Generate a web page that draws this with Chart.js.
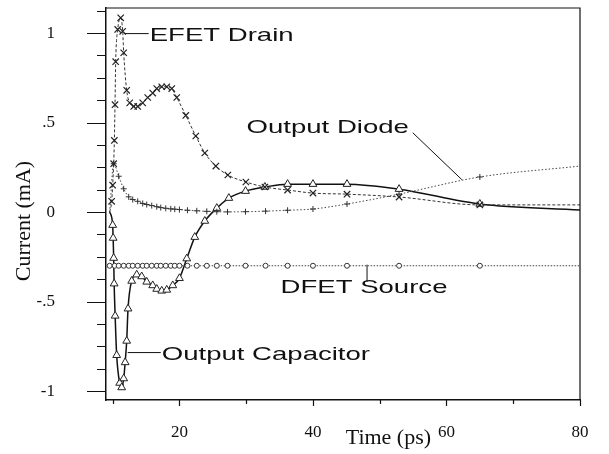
<!DOCTYPE html>
<html>
<head>
<meta charset="utf-8">
<script src="https://cdn.jsdelivr.net/npm/chart.js@4.4.0/dist/chart.umd.min.js"></script>
<style>
  html, body { margin: 0; padding: 0; background: #fff; }
  #wrap { width: 609px; height: 454px; }
</style>
</head>
<body>
<div id="wrap"><canvas id="chartCanvas"></canvas></div>
<script>
// time (ps) and current (mA)
const efetT = [9.55, 9.85, 10.0, 10.15, 10.25, 10.35, 10.45, 10.75, 11.2, 11.5, 11.65, 12.1, 12.55, 13.15, 13.75, 14.5, 15.25, 16.0, 16.6, 17.35, 18.1, 18.85, 19.6, 20.95, 22.45, 23.8, 25.45, 27.25, 29.95, 32.8, 36.2, 40, 45.1, 52.9, 65, 80];
const efetI = [0, 0.06, 0.15, 0.27, 0.40, 0.60, 0.84, 1.02, 1.085, 1.01, 0.89, 0.68, 0.61, 0.59, 0.59, 0.61, 0.64, 0.665, 0.69, 0.70, 0.70, 0.69, 0.64, 0.54, 0.425, 0.33, 0.257, 0.207, 0.168, 0.14, 0.123, 0.106, 0.10, 0.084, 0.04, 0.04];

const diodeT = [9.55, 10.15, 10.9, 11.65, 12.4, 13.0, 13.75, 14.5, 15.1, 15.85, 16.6, 17.2, 17.95, 18.7, 19.3, 20.0, 21.2, 22.6, 24.1, 25.6, 27.2, 29.9, 32.9, 36.2, 40, 45.1, 52.9, 65, 80];
const diodeI = [0, 0.27, 0.20, 0.13, 0.085, 0.07, 0.06, 0.048, 0.042, 0.036, 0.03, 0.025, 0.021, 0.018, 0.016, 0.014, 0.010, 0.007, 0.004, 0.002, 0.001, 0.002, 0.005, 0.01, 0.017, 0.045, 0.10, 0.196, 0.257];

const dfetT = [9.55, 10.3, 10.9, 11.65, 12.4, 13.0, 13.75, 14.5, 15.1, 15.85, 16.6, 17.2, 17.95, 18.7, 19.3, 20.0, 21.2, 22.6, 24.1, 25.6, 27.2, 29.9, 32.9, 36.2, 40, 45.1, 52.9, 65, 80];
const dfetI = [-0.3, -0.3, -0.3, -0.3, -0.3, -0.3, -0.3, -0.3, -0.3, -0.3, -0.3, -0.3, -0.3, -0.3, -0.3, -0.3, -0.3, -0.3, -0.3, -0.3, -0.3, -0.3, -0.3, -0.3, -0.3, -0.3, -0.3, -0.3, -0.3];

const capT = [9.55, 10.0, 10.07, 10.15, 10.22, 10.37, 10.6, 11.05, 11.35, 11.65, 11.87, 12.1, 12.3, 12.85, 13.6, 14.35, 15.1, 16.0, 16.6, 17.35, 18.1, 19.0, 20.0, 21.1, 22.3, 23.8, 25.6, 27.4, 29.9, 32.8, 36.2, 40, 45.1, 52.9, 65, 80];
const capI = [0, -0.073, -0.145, -0.257, -0.40, -0.58, -0.80, -0.955, -0.98, -0.93, -0.84, -0.72, -0.54, -0.385, -0.35, -0.36, -0.39, -0.41, -0.43, -0.44, -0.435, -0.41, -0.37, -0.26, -0.14, -0.05, 0.022, 0.078, 0.117, 0.14, 0.156, 0.156, 0.156, 0.128, 0.045, 0.011];

const xLabels = { 20: '20', 40: '40', 60: '60', 80: '80' };
const yLabels = { '1': '1', '0.5': '.5', '0': '0', '-0.5': '-.5', '-1': '-1' };

// callouts: text position and leader line, in data units
const notes = [
  { text: 'EFET Drain', at: [15.55, 0.985], line: [[11.75, 0.997], [15.4, 0.997]] },
  { text: 'Output Diode', at: [30.05, 0.472], line: [[54.95, 0.443], [62.3, 0.181]] },
  { text: 'DFET Source', at: [35.15, -0.425], line: [[48.1, -0.294], [48.1, -0.39]] },
  { text: 'Output Capacitor', at: [17.35, -0.797], line: [[12.25, -0.785], [17.2, -0.785]] }
];

function pts(t, v) {
  return t.map((x, i) => ({ x: x, y: v[i] }));
}

function isHalf(v) {
  return Math.abs(v * 2 - Math.round(v * 2)) < 1e-6;
}

function endsHidden(r) {
  return (c) => (c.dataIndex === 0 || c.dataIndex === c.dataset.data.length - 1) ? 0 : r;
}

const overlay = {
  id: 'overlay',
  afterDraw(chart) {
    const { ctx, chartArea: a, scales: { x, y } } = chart;
    ctx.save();
    ctx.strokeStyle = '#111';
    ctx.lineWidth = 1.2;
    ctx.beginPath();
    ctx.moveTo(a.left, a.top);
    ctx.lineTo(a.right, a.top);
    ctx.lineTo(a.right, a.bottom);
    y.ticks.forEach(t => {
      const py = Math.round(y.getPixelForValue(t.value)) + 0.5;
      ctx.moveTo(a.left - (isHalf(t.value) ? 19 : 9), py);
      ctx.lineTo(a.left, py);
    });
    x.ticks.forEach(t => {
      const px = Math.round(x.getPixelForValue(t.value)) + 0.5;
      ctx.moveTo(px, a.bottom);
      ctx.lineTo(px, a.bottom + (t.value % 20 === 0 ? 6 : 4));
    });
    ctx.stroke();

    // callouts
    ctx.lineWidth = 1;
    ctx.fillStyle = '#111';
    ctx.font = '19px "Liberation Sans", Arial, sans-serif';
    ctx.textAlign = 'left';
    ctx.textBaseline = 'middle';
    notes.forEach(n => {
      ctx.beginPath();
      ctx.moveTo(x.getPixelForValue(n.line[0][0]), y.getPixelForValue(n.line[0][1]));
      ctx.lineTo(x.getPixelForValue(n.line[1][0]), y.getPixelForValue(n.line[1][1]));
      ctx.stroke();
      ctx.save();
      ctx.translate(x.getPixelForValue(n.at[0]), y.getPixelForValue(n.at[1]));
      ctx.scale(1.45, 1);
      ctx.fillText(n.text, 0, 0);
      ctx.restore();
    });

    // axis titles
    ctx.font = '22px "Liberation Serif", "Times New Roman", serif';
    ctx.textAlign = 'center';
    ctx.fillText('Time (ps)', x.getPixelForValue(51.3), a.bottom + 38);
    ctx.save();
    ctx.translate(24, y.getPixelForValue(-0.05));
    ctx.rotate(-Math.PI / 2);
    ctx.fillText('Current (mA)', 0, 0);
    ctx.restore();
    ctx.restore();
  }
};

const ctx = document.getElementById('chartCanvas').getContext('2d');
const chart = new Chart(ctx, {
  type: 'line',
  data: {
    datasets: [
      {
        label: 'EFET Drain',
        data: pts(efetT, efetI),
        borderColor: '#333',
        borderWidth: 1,
        borderDash: [3, 2],
        pointStyle: 'crossRot',
        pointRadius: endsHidden(4.5),
        pointBorderColor: '#222',
        pointBorderWidth: 1.2
      },
      {
        label: 'Output Diode',
        data: pts(diodeT, diodeI),
        borderColor: '#444',
        borderWidth: 1,
        borderDash: [1.5, 2],
        pointStyle: 'cross',
        pointRadius: endsHidden(3),
        pointBorderColor: '#333',
        pointBorderWidth: 1
      },
      {
        label: 'DFET Source',
        data: pts(dfetT, dfetI),
        borderColor: '#444',
        borderWidth: 1,
        borderDash: [1.5, 1.5],
        pointStyle: 'circle',
        pointRadius: (c) => c.dataIndex === c.dataset.data.length - 1 ? 0 : 2.5,
        pointBorderColor: '#333',
        pointBackgroundColor: '#fff',
        pointBorderWidth: 1
      },
      {
        label: 'Output Capacitor',
        data: pts(capT, capI),
        borderColor: '#111',
        borderWidth: 1.5,
        pointStyle: 'triangle',
        pointRadius: endsHidden(4.5),
        pointBorderColor: '#222',
        pointBackgroundColor: '#fff',
        pointBorderWidth: 1
      }
    ]
  },
  options: {
    animation: false,
    responsive: true,
    maintainAspectRatio: false,
    layout: { padding: { top: 8, right: 29, left: 0, bottom: 0 } },
    plugins: {
      legend: { display: false },
      tooltip: { enabled: false }
    },
    elements: { line: { cubicInterpolationMode: 'monotone' } },
    scales: {
      x: {
        type: 'linear',
        min: 9,
        max: 80,
        grid: { display: false },
        border: { display: true, color: '#111', width: 1.5 },
        afterFit: (s) => { s.height = 54; s.paddingLeft = 0; s.paddingRight = 0; },
        ticks: {
          stepSize: 10,
          includeBounds: false,
          autoSkip: false,
          maxRotation: 0,
          padding: 14,
          color: '#111',
          font: { family: '"Liberation Serif", "Times New Roman", serif', size: 17 },
          callback: (v) => xLabels[v] || ''
        }
      },
      y: {
        min: -1.05,
        max: 1.14,
        grid: { display: false },
        border: { display: true, color: '#111', width: 1.5 },
        afterFit: (s) => { s.width = 106; s.paddingTop = 0; s.paddingBottom = 0; },
        ticks: {
          stepSize: 0.125,
          includeBounds: false,
          autoSkip: false,
          padding: 43,
          color: '#111',
          font: { family: '"Liberation Serif", "Times New Roman", serif', size: 17 },
          callback: (v) => {
            const k = String(Math.round(v * 1000) / 1000);
            return yLabels[k] || '';
          }
        }
      }
    }
  },
  plugins: [overlay]
});
</script>
</body>
</html>
